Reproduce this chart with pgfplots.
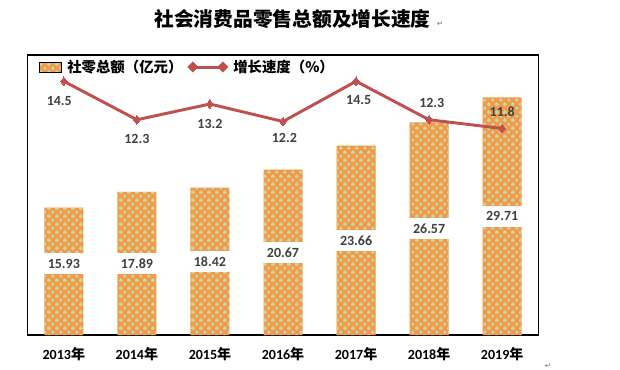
\documentclass[border=0pt]{standalone}
\usepackage{pgfplots}
\pgfplotsset{compat=1.18}
\usepackage{pgfplotstable}
\usetikzlibrary{patterns}
\usepackage{fontspec}
\setmainfont{Carlito}
\newfontfamily\cjk{Noto Sans CJK SC}
\newfontfamily\dejavu{DejaVu Sans}
\definecolor{exOrange}{HTML}{F79646}
\definecolor{exGreen}{HTML}{C3D69B}
\definecolor{exRed}{HTML}{C0504D}
\definecolor{lblGray}{HTML}{404040}

\pgfdeclarepatternformonly{xdiam}{\pgfpointorigin}{\pgfpoint{6.2pt}{6.2pt}}{\pgfpoint{6.2pt}{6.2pt}}{
  \def\d{1.6pt}
  \foreach \cx/\cy in {3.1pt/3.1pt,0pt/0pt,6.2pt/0pt,0pt/6.2pt,6.2pt/6.2pt}{
    \pgfpathmoveto{\pgfpoint{\cx}{\cy-\d}}
    \pgfpathlineto{\pgfpoint{\cx+\d}{\cy}}
    \pgfpathlineto{\pgfpoint{\cx}{\cy+\d}}
    \pgfpathlineto{\pgfpoint{\cx-\d}{\cy}}
    \pgfpathclose
  }
  \pgfusepath{fill}
}

\pgfplotstableread{
x y
0 15.93
1 17.89
2 18.42
3 20.67
4 23.66
5 26.57
6 29.71
}\bartable

\pgfplotstableread{
x y lab
0 8.94 15.93
1 8.945 17.89
2 9.21 18.42
3 10.335 20.67
4 11.83 23.66
5 13.285 26.57
6 14.855 29.71
}\barlabels

\pgfplotstableread{
x y dx dy lab
0 14.5 -3.4 -14.6 14.5
1 12.3 0 -14.3 12.3
2 13.2 0 -15 13.2
3 12.2 1 -12 12.2
4 14.5 2 -14.3 14.5
5 12.3 2 12.9 12.3
6 11.8 0 12.9 11.8
}\linetable

\begin{document}
\begin{tikzpicture}
\useasboundingbox (0pt,0pt) rectangle (465pt,276.75pt);

\begin{axis}[
  at={(20.475pt,25.5pt)}, anchor=south west,
  scale only axis, width=383.55pt, height=210pt,
  xmin=-0.5, xmax=6.5, ymin=0, ymax=35,
  axis line style={black, line width=0.9pt},
  ytick=\empty,
  xtick={0,...,6},
  xticklabels={{2013{\cjk 年}},{2014{\cjk 年}},{2015{\cjk 年}},{2016{\cjk 年}},{2017{\cjk 年}},{2018{\cjk 年}},{2019{\cjk 年}}},
  major tick length=0pt,
  xticklabel style={font=\bfseries\fontsize{10.5}{12}\selectfont, anchor=center, yshift=-14.25pt, text=black},
  clip=false,
]
\addplot[ybar, bar width=29.25pt, draw=none, fill=exOrange,
  postaction={pattern=xdiam, pattern color=exGreen}] table[x=x,y=y] {\bartable};
\addplot[draw=none, mark=none, nodes near coords, point meta=explicit symbolic,
  nodes near coords style={anchor=center, fill=white, inner sep=0pt,
    minimum width=30pt, minimum height=15.75pt,
    font=\bfseries\fontsize{10.5}{12}\selectfont, text=lblGray}]
  table[x=x,y=y,meta=lab] {\barlabels};
\end{axis}

\begin{axis}[
  at={(20.475pt,25.5pt)}, anchor=south west,
  scale only axis, width=383.55pt, height=210pt,
  xmin=-0.5, xmax=6.5, ymin=0, ymax=16,
  hide axis, clip=false,
  legend columns=2,
  legend style={at={(axis description cs:0.0229,0.957)}, anchor=west,
    draw=none, fill=none, inner sep=0pt,
    font=\cjk\bfseries\fontsize{10.8}{13}\selectfont,
    nodes={inner sep=2.6pt},
    /tikz/every odd column/.append style={column sep=1.5pt},
    /tikz/every even column/.append style={column sep=1.5pt}},
]
\addlegendimage{legend image code/.code={
  \fill[exOrange] (0pt,-3.75pt) rectangle (16.5pt,3.75pt);
  \fill[pattern=xdiam, pattern color=exGreen] (0pt,-3.75pt) rectangle (16.5pt,3.75pt);}}
\addlegendentry{社零总额（亿元）}
\addplot[exRed, line width=2.2pt, mark=diamond*, mark size=3.2pt,
  mark options={fill=exRed, draw=exRed, line width=0pt},
  legend image code/.code={
    \draw[exRed, line width=2.2pt] (0pt,0pt) -- (22.5pt,0pt);
    \fill[exRed] (0pt,-2.6pt) -- (2.6pt,0pt) -- (0pt,2.6pt) -- (-2.6pt,0pt) -- cycle;
    \fill[exRed] (22.5pt,-2.6pt) -- (25.1pt,0pt) -- (22.5pt,2.6pt) -- (19.9pt,0pt) -- cycle;}
] table[x=x,y=y] {\linetable};
\addlegendentry{增长速度（\%）}
\addplot[draw=none, mark=none, forget plot,
  nodes near coords, point meta=explicit symbolic,
  visualization depends on={\thisrow{dy} \as \dy},
  visualization depends on={\thisrow{dx} \as \dx},
  nodes near coords style={anchor=center, yshift=\dy pt, xshift=\dx pt,
    font=\bfseries\fontsize{10.5}{12}\selectfont, text=lblGray}
] table[x=x,y=y,meta=lab] {\linetable};
\end{axis}

\node[font=\cjk\bfseries\fontsize{14.8}{17}\selectfont, anchor=center] (title) at (219.4pt,262.3pt) {社会消费品零售总额及增长速度};
\node[anchor=base west, inner sep=0pt, font=\dejavu\fontsize{6}{7}\selectfont, text=gray] at ([xshift=1pt]title.base east) {↵};
\node[anchor=center, inner sep=0pt, font=\dejavu\fontsize{6}{7}\selectfont, text=gray] at (411pt,2.5pt) {↵};
\end{tikzpicture}
\end{document}
